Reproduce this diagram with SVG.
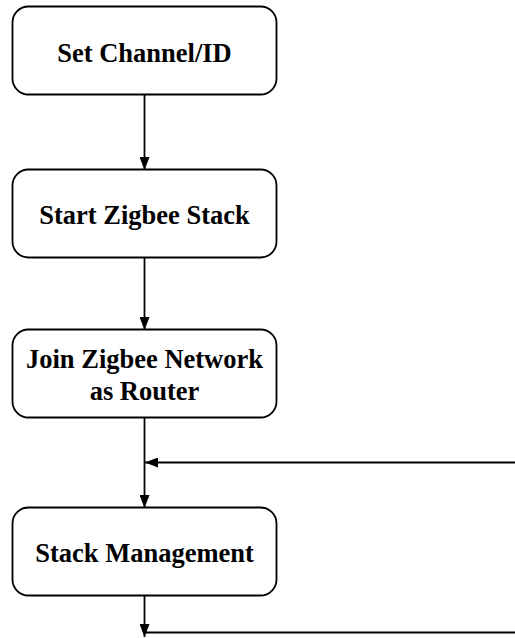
<svg xmlns="http://www.w3.org/2000/svg" width="515" height="638" viewBox="0 0 515 638">
<style>
.box{fill:#fff;stroke:#000;stroke-width:1.8}
.lbl{font-family:"Liberation Serif","Times New Roman",serif;font-weight:bold;font-size:26.5px;fill:#000;text-anchor:middle}
.ln{fill:none;stroke:#000;stroke-width:1.8}
</style>
<defs>
<marker id="ah" viewBox="0 0 13 10" refX="13" refY="5" markerWidth="13" markerHeight="10" markerUnits="userSpaceOnUse" orient="auto">
<path d="M0,0 L13,5 L0,10 Z" fill="#000"/>
</marker>
</defs>
<rect width="515" height="638" fill="#fff"/>
<g id="connectors">
<line class="ln" x1="144.5" y1="95" x2="144.5" y2="170" marker-end="url(#ah)"/>
<line class="ln" x1="144.5" y1="257" x2="144.5" y2="330" marker-end="url(#ah)"/>
<line class="ln" x1="144.5" y1="418" x2="144.5" y2="508" marker-end="url(#ah)"/>
<line class="ln" x1="515" y1="462.5" x2="145" y2="462.5" marker-end="url(#ah)"/>
<line class="ln" x1="144.5" y1="595" x2="144.5" y2="637" marker-end="url(#ah)"/>
<line class="ln" x1="144.5" y1="632.5" x2="515" y2="632.5"/>
</g>
<g id="n1">
<rect class="box" x="12.5" y="6.5" width="264" height="88" rx="16"/>
<text class="lbl" x="144.5" y="62">Set Channel/ID</text>
</g>
<g id="n2">
<rect class="box" x="12.5" y="169.5" width="264" height="88" rx="16"/>
<text class="lbl" x="144.5" y="224">Start Zigbee Stack</text>
</g>
<g id="n3">
<rect class="box" x="12.5" y="329.5" width="264" height="88" rx="16"/>
<text class="lbl" x="144.5" y="368">Join Zigbee Network</text>
<text class="lbl" x="144.5" y="400">as Router</text>
</g>
<g id="n4">
<rect class="box" x="12.5" y="507.5" width="264" height="88" rx="16"/>
<text class="lbl" x="144.5" y="562">Stack Management</text>
</g>
</svg>
